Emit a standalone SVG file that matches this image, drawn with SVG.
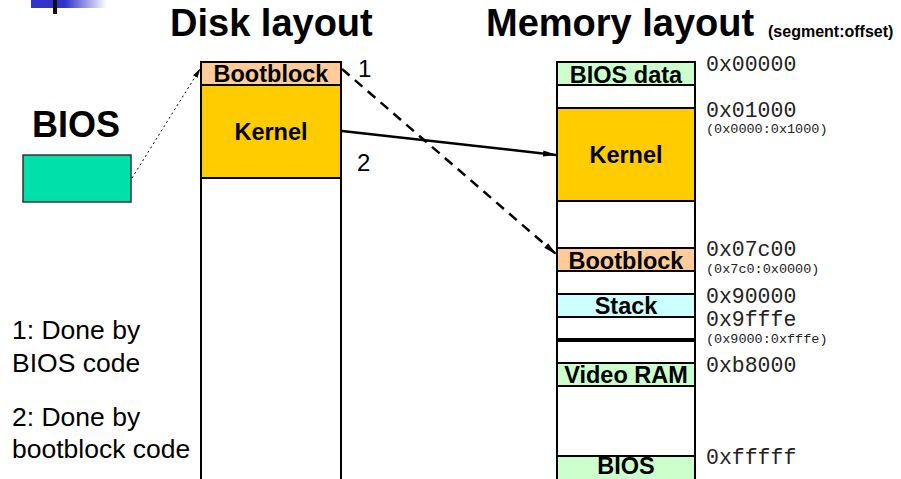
<svg xmlns="http://www.w3.org/2000/svg" width="901" height="479" viewBox="0 0 901 479">
<defs>
<linearGradient id="lg" x1="0" x2="1" y1="0" y2="0">
<stop offset="0" stop-color="#3333cc"/>
<stop offset="0.45" stop-color="#3333cc"/>
<stop offset="1" stop-color="#ffffff"/>
</linearGradient>
<marker id="ah" markerWidth="14" markerHeight="8" refX="13" refY="4" orient="auto" markerUnits="userSpaceOnUse">
<path d="M0,1 L14,4 L0,7 Z" fill="#000"/>
</marker>
<marker id="ahs" markerWidth="10" markerHeight="6" refX="9" refY="3" orient="auto" markerUnits="userSpaceOnUse">
<path d="M0,0.5 L10,3 L0,5.5 Z" fill="#000"/>
</marker>
</defs>
<style>
.t{font-family:"Liberation Sans",Arial,sans-serif;fill:#000}
.title{font-size:38px;font-weight:bold}
.lbl{font-size:23.5px;font-weight:bold;text-anchor:middle}
.leg{font-size:26.5px}
.addr{font-family:"Liberation Mono","Courier New",monospace;font-size:21.5px;fill:#222}
.sub{font-family:"Liberation Mono","Courier New",monospace;font-size:13.5px;fill:#222}
.box{stroke:#000;stroke-width:2}
</style>
<rect x="31" y="0" width="76" height="8" fill="url(#lg)"/>
<rect x="53" y="0" width="4" height="14" fill="#111"/>
<text class="t title" x="170" y="36">Disk layout</text>
<text class="t title" x="486" y="36">Memory layout</text>
<text class="t" x="768" y="37" font-size="16" font-weight="bold">(segment:offset)</text>
<g id="bios">
<text class="t" x="32" y="137" font-size="36" font-weight="bold">BIOS</text>
<rect x="23" y="155" width="108" height="47" fill="#00e0aa" stroke="#333" stroke-width="1.5"/>
</g>
<g id="disk">
<rect x="201" y="62" width="140" height="430" fill="#fff" class="box"/>
<rect x="201" y="62" width="140" height="23" fill="#ffcc99" class="box"/>
<rect x="201" y="85" width="140" height="93" fill="#ffcc00" class="box"/>
<text class="t lbl" x="271" y="82">Bootblock</text>
<text class="t lbl" x="271" y="140">Kernel</text>
</g>
<g id="memory">
<rect x="557" y="62" width="138" height="430" fill="#fff" class="box"/>
<rect x="557" y="62" width="138" height="23" fill="#ccffcc" class="box"/>
<rect x="557" y="108" width="138" height="93" fill="#ffcc00" class="box"/>
<rect x="557" y="248" width="138" height="23" fill="#ffcc99" class="box"/>
<rect x="557" y="294" width="138" height="23" fill="#ccffff" class="box"/>
<line x1="557" y1="340" x2="695" y2="340" stroke="#000" stroke-width="4"/>
<rect x="557" y="363" width="138" height="23" fill="#ccffcc" class="box"/>
<rect x="557" y="456" width="138" height="40" fill="#ccffcc" class="box"/>
<text class="t lbl" x="626" y="83">BIOS data</text>
<text class="t lbl" x="626" y="163">Kernel</text>
<text class="t lbl" x="626" y="269">Bootblock</text>
<text class="t lbl" x="626" y="314">Stack</text>
<text class="t lbl" x="626" y="383">Video RAM</text>
<text class="t lbl" x="626" y="474">BIOS</text>
</g>
<g id="addresses">
<text class="addr" x="706" y="71">0x00000</text>
<text class="addr" x="706" y="117">0x01000</text>
<text class="sub" x="706" y="133">(0x0000:0x1000)</text>
<text class="addr" x="706" y="256">0x07c00</text>
<text class="sub" x="706" y="273">(0x7c0:0x0000)</text>
<text class="addr" x="706" y="303">0x90000</text>
<text class="addr" x="706" y="326">0x9fffe</text>
<text class="sub" x="706" y="343">(0x9000:0xfffe)</text>
<text class="addr" x="706" y="372">0xb8000</text>
<text class="addr" x="706" y="464">0xfffff</text>
</g>
<g id="connectors" fill="none" stroke="#000">
<line x1="132" y1="178" x2="200" y2="69" stroke-width="1" stroke-dasharray="2,3" marker-end="url(#ahs)"/>
<line x1="342" y1="69" x2="556" y2="254" stroke-width="2.5" stroke-dasharray="10,7" marker-end="url(#ah)"/>
<line x1="342" y1="131" x2="556" y2="155" stroke-width="2.5" marker-end="url(#ah)"/>
</g>
<text class="t" x="358" y="77" font-size="24">1</text>
<text class="t" x="357" y="171" font-size="24">2</text>
<g id="legend">
<text class="t leg" x="12" y="339">1: Done by</text>
<text class="t leg" x="12" y="372">BIOS code</text>
<text class="t leg" x="12" y="426">2: Done by</text>
<text class="t leg" x="12" y="458">bootblock code</text>
</g>
</svg>
